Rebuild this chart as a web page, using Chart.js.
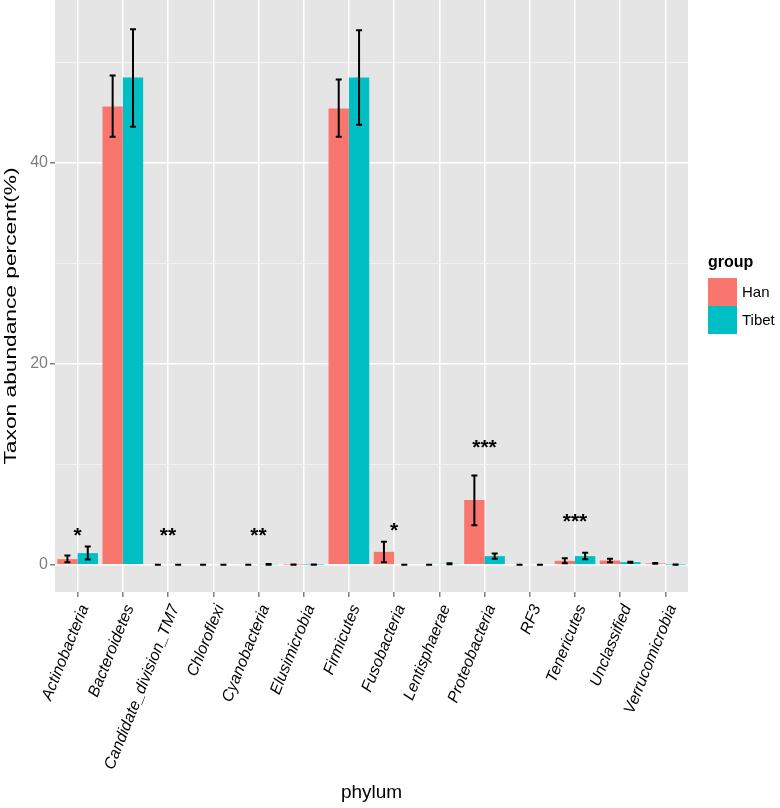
<!DOCTYPE html>
<html>
<head>
<meta charset="utf-8">
<script src="https://cdn.jsdelivr.net/npm/chart.js@4"></script>
<style>
  html, body { margin: 0; padding: 0; background: #fff; }
  #wrap { width: 780px; height: 808px; }
</style>
</head>
<body>
<div id="wrap"><canvas id="chart" width="780" height="808"></canvas></div>
<script>
// categories and values (percent)
const phylum = ['Actinobacteria', 'Bacteroidetes', 'Candidate_division_TM7', 'Chloroflexi',
  'Cyanobacteria', 'Elusimicrobia', 'Firmicutes', 'Fusobacteria', 'Lentisphaerae',
  'Proteobacteria', 'RF3', 'Tenericutes', 'Unclassified', 'Verrucomicrobia'];
const han   = [0.57, 45.6, 0, 0, 0, 0.02, 45.4, 1.3, 0, 6.45, 0, 0.4, 0.43, 0.14];
const tibet = [1.17, 48.5, 0, 0, 0.05, 0.02, 48.5, 0, 0.1, 0.87, 0, 0.87, 0.27, 0.02];
// error bar ends
const hanLow    = [0.27, 42.6, 0, 0, 0, 0, 42.6, 0.25, 0, 3.95, 0, 0.17, 0.27, 0.1];
const hanHigh   = [0.94, 48.7, 0, 0, 0, 0.04, 48.3, 2.3, 0, 8.9, 0, 0.67, 0.6, 0.18];
const tibetLow  = [0.53, 43.6, 0, 0, 0.02, 0, 43.8, 0, 0.05, 0.6, 0, 0.57, 0.22, 0];
const tibetHigh = [1.83, 53.3, 0, 0, 0.08, 0.04, 53.2, 0, 0.15, 1.13, 0, 1.2, 0.32, 0.04];
// significance marks
const stars  = ['*', '', '**', '', '**', '', '', '*', '', '***', '', '***', '', ''];
const starY  = [3.5, null, 3.5, null, 3.5, null, null, 4.0, null, 12.2, null, 4.9, null, null];
const yTicks = [0, 10, 20, 30, 40, 50];

const FONT = '"Liberation Sans", Arial, sans-serif';
const groups = [
  { name: 'Han', color: '#F8766D' },
  { name: 'Tibet', color: '#00BFC4' }
];
const errLow = [hanLow, tibetLow];
const errHigh = [hanHigh, tibetHigh];

const panelPlugin = {
  id: 'panel',
  beforeDraw(chart) {
    const { ctx, chartArea: a } = chart;
    ctx.save();
    ctx.fillStyle = '#E5E5E5';
    ctx.fillRect(a.left, a.top, a.right - a.left, a.bottom - a.top);
    ctx.restore();
  },
  afterDatasetsDraw(chart) {
    const { ctx, scales } = chart;
    const y = scales.y;
    ctx.save();
    ctx.strokeStyle = '#000';
    ctx.lineWidth = 2;
    // error bars
    chart.data.datasets.forEach((ds, di) => {
      const meta = chart.getDatasetMeta(di);
      meta.data.forEach((bar, i) => {
        const x = bar.x;
        const y1 = y.getPixelForValue(errLow[di][i]);
        const y2 = y.getPixelForValue(errHigh[di][i]);
        ctx.beginPath();
        ctx.moveTo(x, y1); ctx.lineTo(x, y2);
        ctx.moveTo(x - 3, y1); ctx.lineTo(x + 3, y1);
        ctx.moveTo(x - 3, y2); ctx.lineTo(x + 3, y2);
        ctx.stroke();
      });
    });
    // stars
    ctx.fillStyle = '#000';
    ctx.font = 'bold 21px ' + FONT;
    ctx.textAlign = 'center';
    ctx.textBaseline = 'alphabetic';
    stars.forEach((s, i) => {
      if (!s) return;
      const x = scales.x.getPixelForValue(i);
      ctx.fillText(s, x, y.getPixelForValue(starY[i]) + 12);
    });
    // y axis title (stretched along its length like the reference)
    ctx.save();
    ctx.translate(12, 316);
    ctx.rotate(-Math.PI / 2);
    ctx.font = '16px ' + FONT;
    const w = ctx.measureText('Taxon abundance percent(%)').width;
    ctx.scale(297 / w, 1);
    ctx.textAlign = 'center';
    ctx.textBaseline = 'middle';
    ctx.fillText('Taxon abundance percent(%)', 0, 0);
    ctx.restore();
    // legend
    const lx = chart.chartArea.right + 20;
    const ly = 252;
    ctx.textAlign = 'left';
    ctx.textBaseline = 'middle';
    ctx.font = 'bold 16px ' + FONT;
    ctx.fillText('group', lx, ly + 11);
    ctx.font = '15px ' + FONT;
    groups.forEach((g, k) => {
      const top = ly + 26 + k * 28;
      ctx.fillStyle = g.color;
      ctx.fillRect(lx, top, 29, 28);
      ctx.fillStyle = '#000';
      ctx.fillText(g.name, lx + 34, top + 15);
    });
    ctx.restore();
  }
};

new Chart(document.getElementById('chart'), {
  type: 'bar',
  data: {
    labels: phylum,
    datasets: groups.map((g, k) => ({
      label: g.name,
      data: k === 0 ? han : tibet,
      backgroundColor: g.color,
      borderWidth: 0,
      categoryPercentage: 0.9,
      barPercentage: 1.0
    }))
  },
  options: {
    responsive: false,
    animation: false,
    layout: { padding: { left: 0, right: 92, top: 0, bottom: 0 } },
    plugins: { legend: { display: false }, tooltip: { enabled: false } },
    scales: {
      x: {
        offset: true,
        afterFit(scale) { scale.height = 216; scale.paddingLeft = 0; scale.paddingRight = 0; },
        grid: {
          offset: false, color: '#FFFFFF', lineWidth: 1.5,
          drawTicks: true, tickLength: 5, tickColor: '#7F7F7F'
        },
        border: { display: false },
        ticks: {
          autoSkip: false, maxRotation: 68, minRotation: 68, padding: 5, labelOffset: 7,
          color: '#000',
          font: { family: FONT, size: 16, style: 'italic' }
        },
        title: {
          display: true, text: 'phylum', color: '#000',
          font: { family: FONT, size: 19 },
          padding: { top: 0, bottom: 4 }
        }
      },
      y: {
        min: -2.7,
        max: 56.2,
        afterFit(scale) { scale.width = 55; scale.paddingTop = 0; scale.paddingBottom = 0; },
        afterBuildTicks(scale) { scale.ticks = yTicks.map(v => ({ value: v })); },
        grid: {
          color: c => (c.tick && c.tick.value % 20 === 0) ? '#FFFFFF' : '#F2F2F2',
          lineWidth: c => (c.tick && c.tick.value % 20 === 0) ? 1.5 : 1,
          tickLength: 5,
          tickColor: c => (c.tick && c.tick.value % 20 === 0) ? '#7F7F7F' : 'rgba(0,0,0,0)'
        },
        border: { display: false },
        ticks: {
          padding: 2,
          color: '#7F7F7F',
          font: { family: FONT, size: 16 },
          callback: v => (v % 20 === 0 ? String(v) : '')
        },
        title: { display: false }
      }
    }
  },
  plugins: [panelPlugin]
});
</script>
</body>
</html>
